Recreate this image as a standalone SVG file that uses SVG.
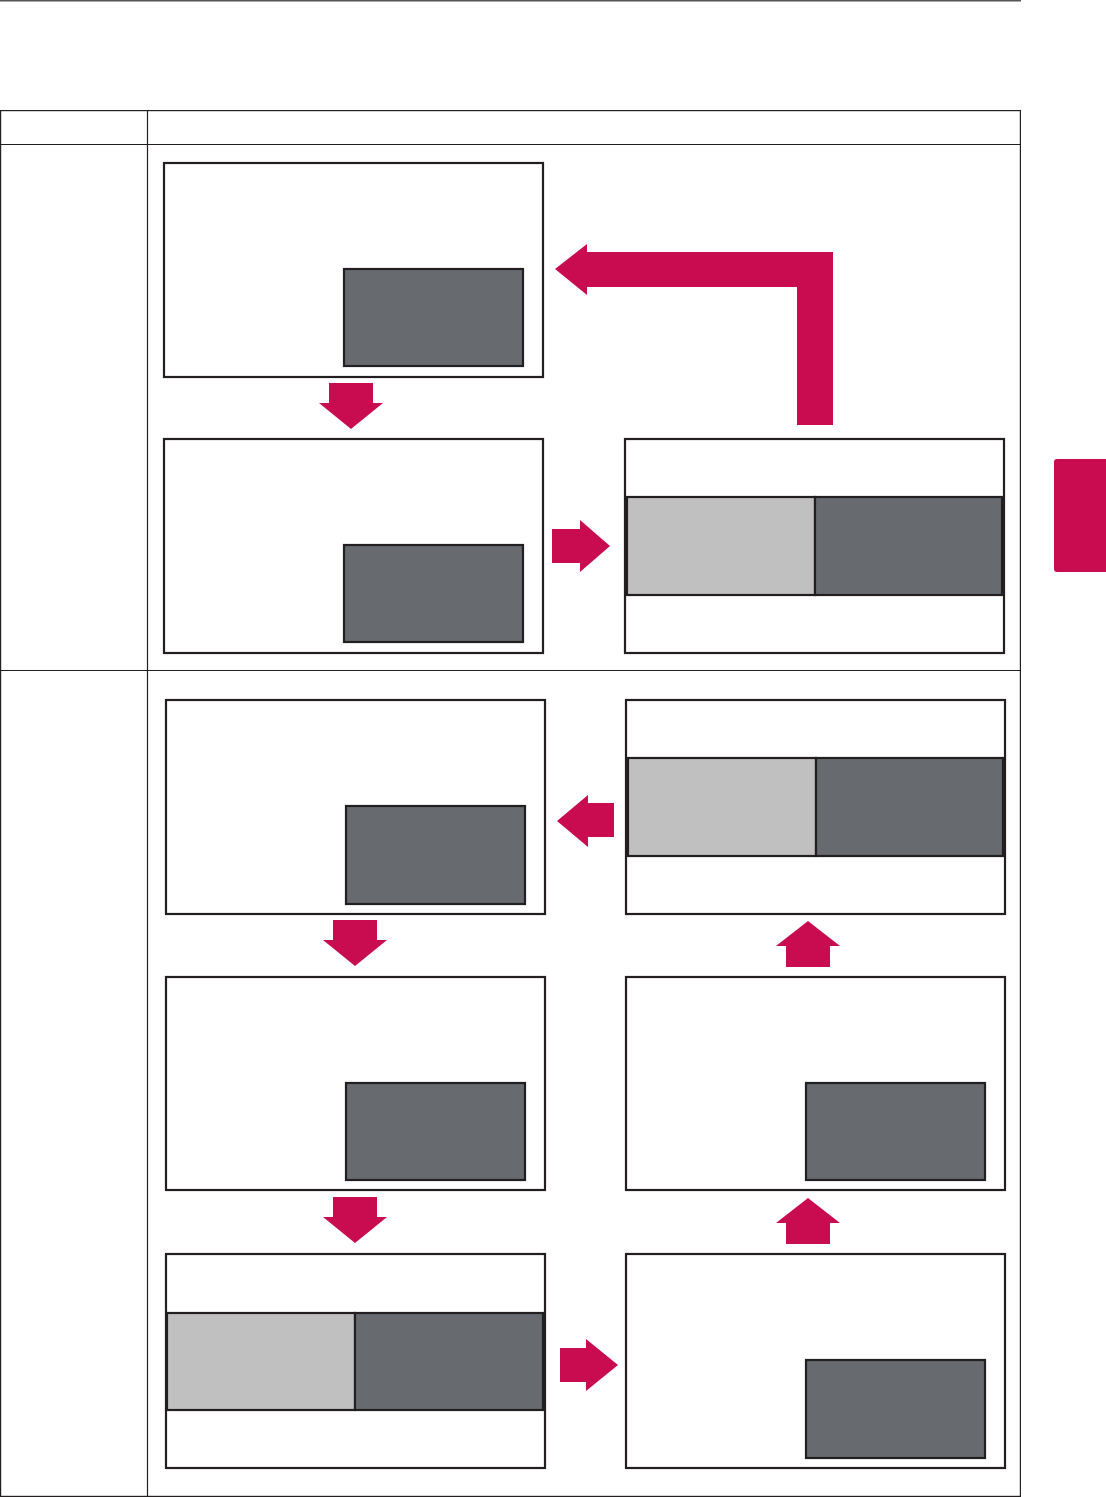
<svg xmlns="http://www.w3.org/2000/svg" width="1106" height="1497" viewBox="0 0 1106 1497">
<style>
.tbl{fill:none;stroke:#231f20;stroke-width:1.2}
.frame{fill:#fff;stroke:#231f20;stroke-width:2.2}
.dark{fill:#676a6f;stroke:#231f20;stroke-width:2.2}
.light{fill:#c0c0c0;stroke:#231f20;stroke-width:2.2}
.arr{fill:#c80c4f}
</style>
<rect width="1106" height="1497" fill="#fff"/>
<line x1="0" y1="0.8" x2="1021" y2="0.8" stroke="#555" stroke-width="1.6"/>
<g id="table">
<rect class="tbl" x="0.6" y="110.6" width="1019.8" height="1385.8"/>
<line class="tbl" x1="0" y1="144.5" x2="1021" y2="144.5"/>
<line class="tbl" x1="147.5" y1="110" x2="147.5" y2="1497"/>
<line class="tbl" x1="0" y1="670.5" x2="1021" y2="670.5"/>
</g>
<rect id="side-tab" x="1054" y="459" width="60" height="113" rx="3" class="arr"/>
<g id="nodeA"><rect class="frame" x="164" y="163" width="379" height="214"/><rect class="dark" x="344" y="269" width="179" height="97"/></g>
<g id="nodeB"><rect class="frame" x="164" y="439" width="379" height="214"/><rect class="dark" x="344" y="545" width="179" height="97"/></g>
<g id="nodeC"><rect class="frame" x="625" y="439" width="379" height="214"/><rect class="light" x="627" y="497" width="188" height="98"/><rect class="dark" x="815" y="497" width="187" height="98"/></g>
<g id="nodeD"><rect class="frame" x="166" y="700" width="379" height="214"/><rect class="dark" x="346" y="806" width="179" height="98"/></g>
<g id="nodeE"><rect class="frame" x="626" y="700" width="379" height="214"/><rect class="light" x="628" y="758" width="188" height="98"/><rect class="dark" x="816" y="758" width="187" height="98"/></g>
<g id="nodeF"><rect class="frame" x="166" y="977" width="379" height="213"/><rect class="dark" x="346" y="1083" width="179" height="97"/></g>
<g id="nodeG"><rect class="frame" x="626" y="977" width="379" height="213"/><rect class="dark" x="806" y="1083" width="179" height="97"/></g>
<g id="nodeH"><rect class="frame" x="166" y="1254" width="379" height="214"/><rect class="light" x="167" y="1313" width="188" height="97"/><rect class="dark" x="355" y="1313" width="188" height="97"/></g>
<g id="nodeI"><rect class="frame" x="626" y="1254" width="379" height="214"/><rect class="dark" x="806" y="1360" width="179" height="98"/></g>
<g id="connectors">
<polygon class="arr" points="555,269 587,244 587,252 833,252 833,425 797,425 797,287 587,287 587,295"/>
<polygon class="arr" points="329,383 373,383 373,403 383,403 351,429 319,403 329,403"/>
<polygon class="arr" points="552,529 580,529 580,520 610,546 580,572 580,563 552,563"/>
<polygon class="arr" points="614,803 588,803 588,795 557,821 588,847 588,837 614,837"/>
<polygon class="arr" points="333,920 377,920 377,940 387,940 355,966 323,940 333,940"/>
<polygon class="arr" points="333,1197 377,1197 377,1217 387,1217 355,1243 323,1217 333,1217"/>
<polygon class="arr" points="786,967 830,967 830,946 840,946 808,921 776,946 786,946"/>
<polygon class="arr" points="786,1244 830,1244 830,1223 840,1223 808,1198 776,1223 786,1223"/>
<polygon class="arr" points="560,1348 586,1348 586,1339 618,1365 586,1391 586,1382 560,1382"/>
</g>
</svg>
